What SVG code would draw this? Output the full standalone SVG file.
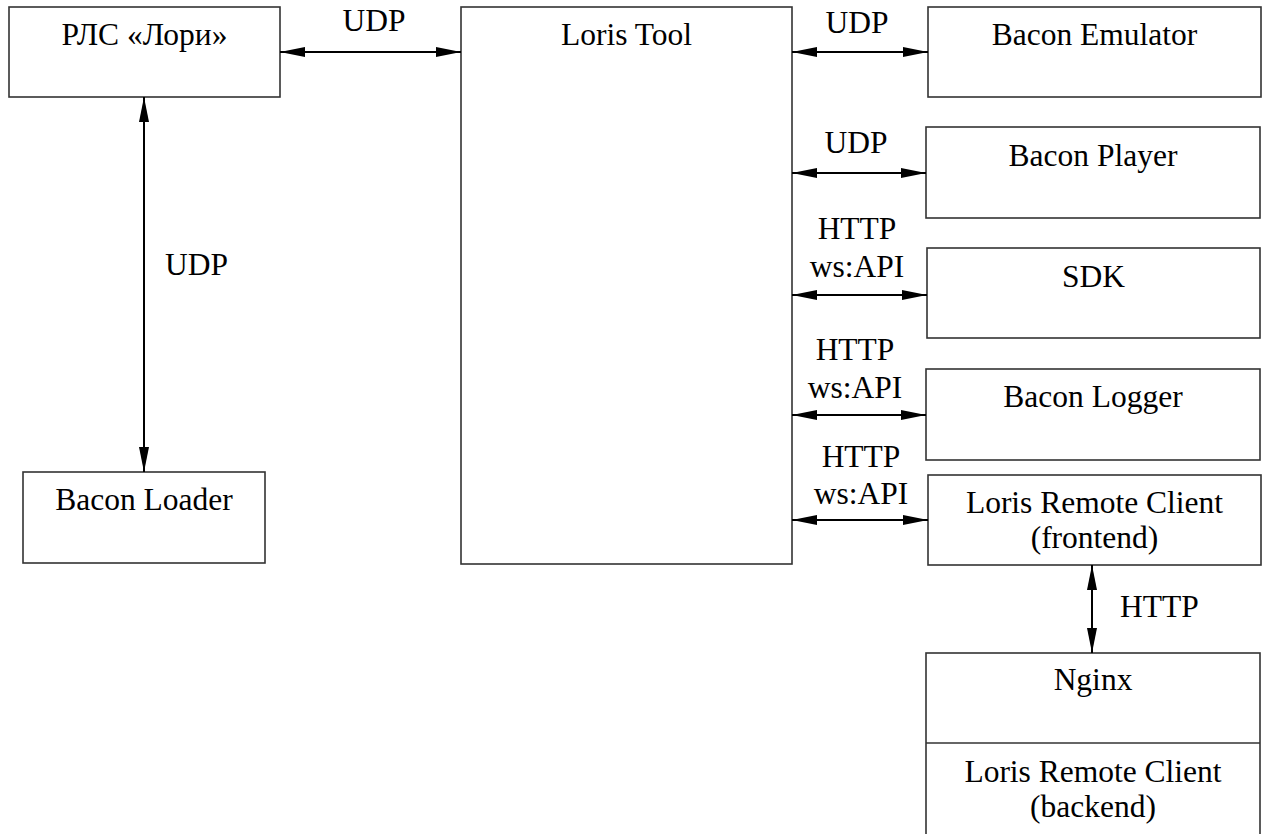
<svg xmlns="http://www.w3.org/2000/svg" width="1268" height="834" viewBox="0 0 1268 834">
<defs>
<marker id="arr" viewBox="0 0 25 10" refX="25" refY="5" markerWidth="25" markerHeight="10" markerUnits="userSpaceOnUse" orient="auto-start-reverse">
<path d="M0,0 L25,5 L0,10 z" fill="#000"/>
</marker>
<style>
.box{fill:#fff;stroke:#333;stroke-width:1.6}
.t{fill:#000;text-anchor:middle}
.ts{fill:#000}
.c{stroke:#000;stroke-width:2;fill:none;marker-start:url(#arr);marker-end:url(#arr)}
</style>
</defs>
<rect width="1268" height="834" fill="#fff"/>
<g font-family="'Liberation Serif', 'Times New Roman', Times, serif" font-size="31.5">
<g id="rls"><rect class="box" x="9" y="7" width="271" height="90"/><text class="t" x="144.5" y="45">РЛС «Лори»</text></g>
<g id="loris-tool"><rect class="box" x="461" y="7" width="331" height="557"/><text class="t" x="626.5" y="45">Loris Tool</text></g>
<g id="bacon-emulator"><rect class="box" x="928" y="7" width="333" height="90"/><text class="t" x="1094.5" y="45">Bacon Emulator</text></g>
<g id="bacon-player"><rect class="box" x="926" y="127" width="334" height="91"/><text class="t" x="1093" y="166">Bacon Player</text></g>
<g id="sdk"><rect class="box" x="927" y="248" width="333" height="90"/><text class="t" x="1093.5" y="287">SDK</text></g>
<g id="bacon-logger"><rect class="box" x="926" y="369" width="334" height="91"/><text class="t" x="1093" y="407">Bacon Logger</text></g>
<g id="lrc-frontend"><rect class="box" x="928" y="475" width="333" height="90"/><text class="t" x="1094.5" y="513">Loris Remote Client</text><text class="t" x="1094.5" y="548">(frontend)</text></g>
<g id="nginx"><rect class="box" x="926" y="653" width="334" height="190"/><line x1="926" y1="743" x2="1260" y2="743" stroke="#333" stroke-width="1.6"/><text class="t" x="1093" y="690">Nginx</text><text class="t" x="1093" y="782">Loris Remote Client</text><text class="t" x="1093" y="817">(backend)</text></g>
<g id="bacon-loader"><rect class="box" x="23" y="472" width="242" height="91"/><text class="t" x="144" y="510">Bacon Loader</text></g>
<g id="connectors">
<line class="c" x1="280" y1="52" x2="461" y2="52"/>
<line class="c" x1="792" y1="52" x2="928" y2="52"/>
<line class="c" x1="792" y1="173" x2="926" y2="173"/>
<line class="c" x1="792" y1="295" x2="927" y2="295"/>
<line class="c" x1="792" y1="415" x2="926" y2="415"/>
<line class="c" x1="792" y1="520" x2="928" y2="520"/>
<line class="c" x1="144" y1="97" x2="144" y2="472"/>
<line class="c" x1="1092" y1="565" x2="1092" y2="653"/>
<text class="t" x="374" y="31">UDP</text>
<text class="t" x="857" y="33">UDP</text>
<text class="t" x="856" y="153">UDP</text>
<text class="t" x="857" y="239">HTTP</text>
<text class="t" x="857" y="277">ws:API</text>
<text class="t" x="855" y="360">HTTP</text>
<text class="t" x="855" y="398">ws:API</text>
<text class="t" x="861" y="467">HTTP</text>
<text class="t" x="861" y="504">ws:API</text>
<text class="ts" x="165" y="275">UDP</text>
<text class="ts" x="1120" y="617">HTTP</text>
</g>
</g>
</svg>
